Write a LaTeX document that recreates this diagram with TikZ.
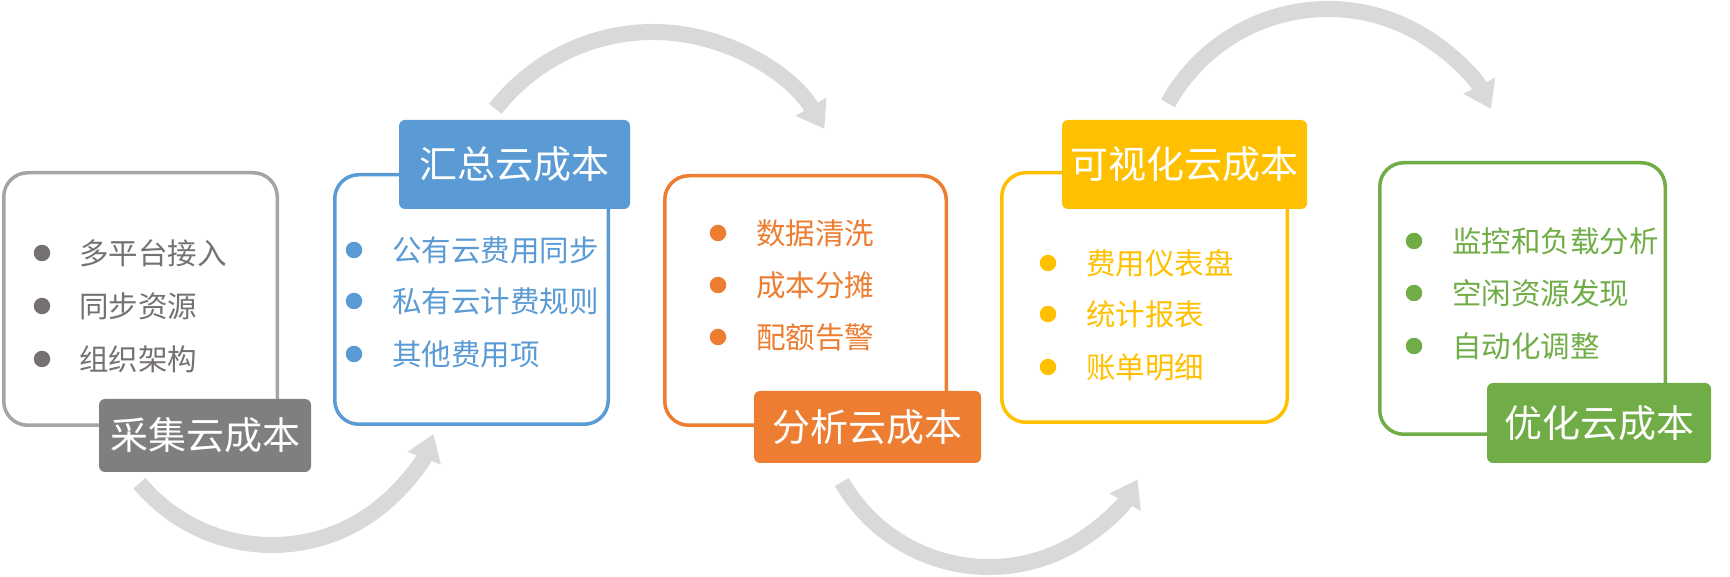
\documentclass[tikz,border=0pt]{standalone}
\usepackage{fontspec}
\setmainfont{Noto Sans CJK SC}
\usetikzlibrary{arrows.meta}
\definecolor{cgrey}{HTML}{A5A5A5}
\definecolor{cgreyd}{HTML}{7F7F7F}
\definecolor{cgreyt}{HTML}{767171}
\definecolor{cblue}{HTML}{5B9BD5}
\definecolor{corange}{HTML}{ED7D31}
\definecolor{cyellow}{HTML}{FFC000}
\definecolor{cgreen}{HTML}{70AD47}
\definecolor{carrow}{HTML}{D9D9D9}
\tikzset{
  panel/.style={draw=#1, line width=3.5pt, rounded corners=24pt, inner sep=0pt, fill=white},
  tag/.style={fill=#1, rounded corners=6pt, text=white, inner sep=0pt, font=\fontsize{38}{44}\selectfont},
  dot/.style={circle, fill=#1, inner sep=0pt, minimum size=16.5pt},
  item/.style={text=#1, anchor=west, inner sep=0pt, font=\fontsize{29.5}{35}\selectfont},
  flow/.style={draw=carrow, line width=16pt, -{Triangle[width=34pt,length=26pt]}}
}
\begin{document}
\begin{tikzpicture}[x=1pt,y=1pt]
\useasboundingbox (0,0) rectangle (1730,576);
% arrows
\coordinate (c1) at (272,204);
\coordinate (c2) at (653,344);
\coordinate (c3) at (989,179);
\coordinate (c4) at (1328,384);
\draw[flow] ([shift={(220:173)}]c1) arc[start angle=220,end angle=339,radius=173];
\draw[flow] ([shift={(142:200)}]c2) arc[start angle=142,end angle=31,radius=200];
\draw[flow] ([shift={(210:170)}]c3) arc[start angle=210,end angle=331,radius=170];
\draw[flow] ([shift={(151:183)}]c4) arc[start angle=151,end angle=27,radius=183];
% panels
\node[panel=cgrey, minimum width=273.5pt, minimum height=252.5pt] (b1) at (140.5,277) {};
\node[panel=cblue, minimum width=273.5pt, minimum height=249.5pt] (b2) at (471.5,276.5) {};
\node[panel=corange, minimum width=281.5pt, minimum height=249.5pt] (b3) at (805.5,275.5) {};
\node[panel=cyellow, minimum width=285.5pt, minimum height=249.5pt] (b4) at (1144.5,278.5) {};
\node[panel=cgreen, minimum width=285.5pt, minimum height=271.5pt] (b5) at (1522.5,277.5) {};
% tags
\node[tag=cgreyd, minimum width=212pt, minimum height=73pt] (t1) at (205,140.5) {采集云成本};
\node[tag=cblue, minimum width=231pt, minimum height=89pt] (t2) at (514.5,411.5) {汇总云成本};
\node[tag=corange, minimum width=227pt, minimum height=72pt] (t3) at (867.5,149) {分析云成本};
\node[tag=cyellow, minimum width=245pt, minimum height=89pt] (t4) at (1184.5,411.5) {可视化云成本};
\node[tag=cgreen, minimum width=224pt, minimum height=80pt] (t5) at (1599,153) {优化云成本};
% items box1
\node[dot=cgreyt] (d11) at (42,323) {};
\node[dot=cgreyt] (d12) at (42,270) {};
\node[dot=cgreyt] (d13) at (42,217) {};
\node[item=cgreyt] (i11) at (79,323) {多平台接入};
\node[item=cgreyt] (i12) at (79,270) {同步资源};
\node[item=cgreyt] (i13) at (79,217) {组织架构};
% items box2
\node[dot=cblue] (d21) at (354,326) {};
\node[dot=cblue] (d22) at (354,275) {};
\node[dot=cblue] (d23) at (354,222) {};
\node[item=cblue] (i21) at (392,326) {公有云费用同步};
\node[item=cblue] (i22) at (392,275) {私有云计费规则};
\node[item=cblue] (i23) at (392,222) {其他费用项};
% items box3
\node[dot=corange] (d31) at (718,343) {};
\node[dot=corange] (d32) at (718,291) {};
\node[dot=corange] (d33) at (718,239) {};
\node[item=corange] (i31) at (756,343) {数据清洗};
\node[item=corange] (i32) at (756,291) {成本分摊};
\node[item=corange] (i33) at (756,239) {配额告警};
% items box4
\node[dot=cyellow] (d41) at (1048,313) {};
\node[dot=cyellow] (d42) at (1048,262) {};
\node[dot=cyellow] (d43) at (1048,209) {};
\node[item=cyellow] (i41) at (1086,313) {费用仪表盘};
\node[item=cyellow] (i42) at (1086,262) {统计报表};
\node[item=cyellow] (i43) at (1086,209) {账单明细};
% items box5
\node[dot=cgreen] (d51) at (1414,335) {};
\node[dot=cgreen] (d52) at (1414,283) {};
\node[dot=cgreen] (d53) at (1414,230) {};
\node[item=cgreen] (i51) at (1452,335) {监控和负载分析};
\node[item=cgreen] (i52) at (1452,283) {空闲资源发现};
\node[item=cgreen] (i53) at (1452,230) {自动化调整};
\end{tikzpicture}
\end{document}
